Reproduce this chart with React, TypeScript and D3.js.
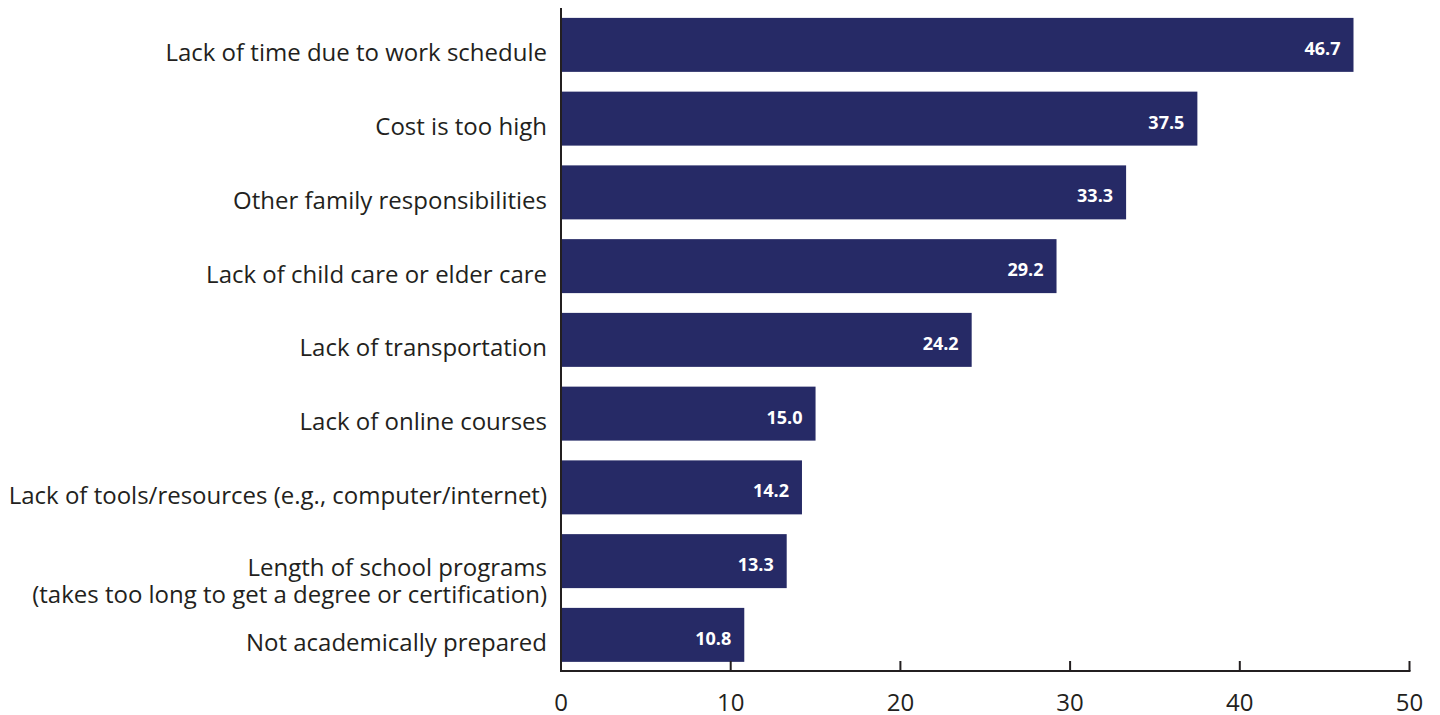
import React from "react";
import * as d3 from "d3";

const categories: string[][] = [
  ["Lack of time due to work schedule"],
  ["Cost is too high"],
  ["Other family responsibilities"],
  ["Lack of child care or elder care"],
  ["Lack of transportation"],
  ["Lack of online courses"],
  ["Lack of tools/resources (e.g., computer/internet)"],
  ["Length of school programs", "(takes too long to get a degree or certification)"],
  ["Not academically prepared"],
];
const values: number[] = [46.7, 37.5, 33.3, 29.2, 24.2, 15.0, 14.2, 13.3, 10.8];
const xTicks: number[] = [0, 10, 20, 30, 40, 50];

const W = 1440;
const H = 715;
const FONT = "'Open Sans', 'Noto Sans', sans-serif";
const BAR = "#262a66";
const INK = "#231f20";

export default function App() {
  const x = d3.scaleLinear().domain([0, 50]).range([561, 1409.5]);
  const ids = categories.map((_, i) => String(i));
  const y = d3
    .scaleBand<string>()
    .domain(ids)
    .range([8, 671.75])
    .paddingInner(0.268)
    .paddingOuter(0.134);
  const bw = y.bandwidth();
  const axisY = 671;

  return (
    <svg
      width={W}
      height={H}
      style={{ position: "absolute", left: 0, top: 0, display: "block" }}
    >
      <rect width={W} height={H} fill="#fff" />
      {values.map((v, i) => {
        const y0 = y(String(i))!;
        const cy = y0 + bw / 2;
        const lines = categories[i];
        return (
          <g key={i}>
            <rect x={x(0)} y={y0} width={x(v) - x(0)} height={bw} fill={BAR} />
            <text
              x={x(v) - 13}
              y={cy + 10}
              textAnchor="end"
              fill="#fff"
              fontFamily={FONT}
              fontWeight={700}
              fontSize={18}
            >
              {v.toFixed(1)}
            </text>
            {lines.length === 1 ? (
              <text
                x={547}
                y={cy + 16.5}
                textAnchor="end"
                fill={INK}
                fontFamily={FONT}
                fontSize={24}
              >
                {lines[0]}
              </text>
            ) : (
              <text
                x={547}
                y={cy + 15}
                textAnchor="end"
                fill={INK}
                fontFamily={FONT}
                fontSize={24}
              >
                {lines.map((l, k) => (
                  <tspan key={k} x={547} dy={k === 0 ? 0 : 27}>
                    {l}
                  </tspan>
                ))}
              </text>
            )}
          </g>
        );
      })}
      <line x1={x(0)} x2={x(0)} y1={8} y2={axisY + 1} stroke={INK} strokeWidth={2} />
      <line x1={x(0) - 1} x2={x(50) + 1} y1={axisY} y2={axisY} stroke={INK} strokeWidth={2} />
      {xTicks.map((t) => (
        <g key={t}>
          {t > 0 && (
            <line x1={x(t)} x2={x(t)} y1={axisY} y2={axisY - 10} stroke={INK} strokeWidth={2} />
          )}
          <text
            x={x(t)}
            y={711}
            textAnchor="middle"
            fill={INK}
            fontFamily={FONT}
            fontSize={24}
          >
            {t}
          </text>
        </g>
      ))}
    </svg>
  );
}
